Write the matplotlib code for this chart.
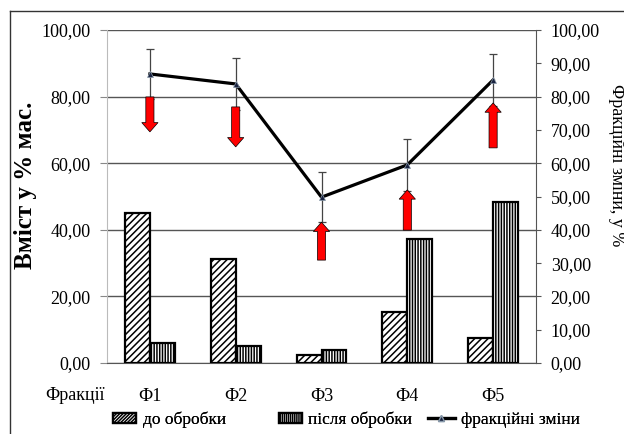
import matplotlib
matplotlib.use("Agg")
import matplotlib.pyplot as plt
from matplotlib.lines import Line2D
from matplotlib.patches import Patch
import numpy as np

plt.rcParams['font.family'] = ['Liberation Serif', 'DejaVu Serif']
plt.rcParams['hatch.linewidth'] = 1.1

# data
fractions = ['Ф1', 'Ф2', 'Ф3', 'Ф4', 'Ф5']
before = [45.0, 31.3, 2.4, 15.3, 7.5]
after = [6.0, 5.1, 3.9, 37.2, 48.3]
changes = [86.8, 83.8, 49.8, 59.5, 85.0]
changes_err = [7.5, 7.8, 7.6, 7.7, 7.8]
# red arrows: start and end value on the 0-100 scale
arrow_start = [79.9, 76.9, 30.9, 39.9, 64.6]
arrow_end = [69.4, 64.9, 42.3, 52.0, 78.1]

def fmt(v):
    return f"{v:.2f}".replace('.', ',')

fig = plt.figure(figsize=(6.24, 4.34), dpi=100)
ax = fig.add_axes([107/624, 1-363/434, (536-107)/624, (363-30)/434])
x = np.arange(len(fractions))
w = 0.29

ax.bar(x - w/2, before, w, color='white', edgecolor='black', hatch='/////', lw=1.6, zorder=3)
ax.bar(x + w/2, after, w, color='white', edgecolor='black', hatch='||||||', lw=1.6, zorder=3)

ax.set_xlim(-0.5, 4.5)
ax.set_ylim(0, 100)
ax.set_yticks(np.arange(0, 101, 20))
ax.set_yticklabels([fmt(v) for v in np.arange(0, 101, 20)], fontsize=13)
ax.yaxis.grid(True, color='#555555', lw=1)
ax.set_axisbelow(True)
ax.set_xticks(x)
ax.set_xticklabels(fractions, fontsize=13)
ax.tick_params(axis='x', length=0, pad=18)
ax.tick_params(axis='y', length=5, color='#888888', pad=7)
for s in ['top', 'right']:
    ax.spines[s].set_visible(False)
ax.spines['left'].set_color('#bbbbbb')
ax.spines['bottom'].set_color('#555555')

ax2 = ax.twinx()
ax2.set_ylim(0, 100)
ax2.set_yticks(np.arange(0, 101, 10))
ax2.set_yticklabels([fmt(v) for v in np.arange(0, 101, 10)], fontsize=13)
ax2.tick_params(axis='y', length=3.6, color='#555555', pad=7)
for s in ['top', 'left', 'bottom']:
    ax2.spines[s].set_visible(False)
ax2.spines['right'].set_color('#555555')

ax2.errorbar(x, changes, yerr=changes_err, fmt='none', ecolor='#444444',
             elinewidth=0.9, capsize=3, capthick=0.9, zorder=4)
ax2.plot(x, changes, color='black', lw=2.3, zorder=5)
ax2.plot(x, changes, ls='none', marker='^', ms=5, mfc='#1a2340',
         mec='#8899aa', mew=0.5, zorder=6)

for xi, y0, y1 in zip(x, arrow_start, arrow_end):
    ax2.arrow(xi, y0, 0, y1 - y0, width=0.095, head_width=0.19, head_length=2.8,
              length_includes_head=True, fc='red', ec='black', lw=0.5, zorder=7)

fig.text(45/624, 1-395/434, 'Фракції', fontsize=13, va='center', ha='left')
fig.text(26/624, 1-185/434, 'Вміст у % мас.', fontsize=18, fontweight='bold',
         rotation=90, va='center', ha='center')
fig.text(617/624, 1-165/434, 'Фракційні зміни, у %', fontsize=13,
         rotation=270, va='center', ha='center')

# legend, one entry at a time like the original
handles = [Patch(facecolor='white', edgecolor='black', hatch='//////////', lw=1.6),
           Patch(facecolor='white', edgecolor='black', hatch='||||||||', lw=1.6),
           Line2D([0], [0], color='black', lw=2.3, marker='^', ms=5,
                  mfc='#1a2340', mec='#8899aa')]
labels = ['до обробки', 'після обробки', 'фракційні зміни']
leg_x = [113, 279, 428]
leg_len = [1.35, 1.3, 1.55]
for h, lab, lx, hl in zip(handles, labels, leg_x, leg_len):
    lg = fig.legend([h], [lab], loc='center left', bbox_to_anchor=(lx/624, 1-420/434),
                    frameon=False, fontsize=12.5, handlelength=hl, handleheight=0.55,
                    handletextpad=0.35, borderpad=0, borderaxespad=0)
    fig.add_artist(lg)

# frame around the chart
fig.add_artist(Line2D([10/624, 10/624], [0, 1-11/434], color='#333333', lw=1))
fig.add_artist(Line2D([10/624, 1], [1-11/434, 1-11/434], color='#333333', lw=1))

fig.savefig('out.png', dpi=100)
